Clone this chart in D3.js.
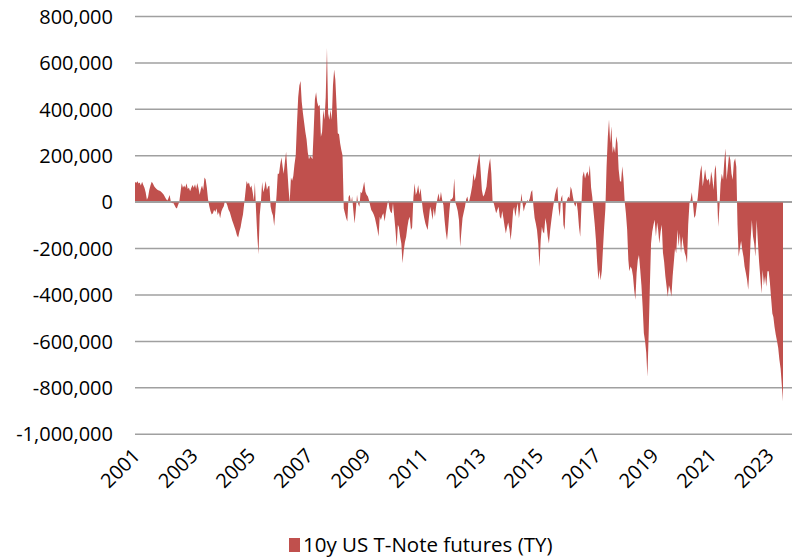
<!DOCTYPE html>
<meta charset="utf-8">
<style>
body { margin: 0; background: #fff; }
text { font-family: "Open Sans", sans-serif; font-size: 20px; fill: #000; }
.grid line { stroke: #a0a0a0; stroke-width: 1.5px; }
.grid path { display: none; }
.yaxis path, .xaxis path { display: none; }
.yaxis line, .xaxis line { display: none; }
.legend text { font-size: 20.5px; }
</style>
<svg width="792" height="559"></svg>
<script src="https://d3js.org/d3.v7.min.js"></script>
<script>

// net positioning, thousands of contracts, two readings per month from Jan 2001
var netPositions = [
  86, 80, 88, 78, 82, 70, 86, 72, 60, 40, 8, 20, 50, 70, 86, 78, 66, 60, 55, 50, 48, 46, 42, 36,                                   // 2001
  30, 20, 10, 5, 15, 29, 0, -7, -5, -14, -25, -30, -14, -2, 40, 79, 60, 70, 60, 79, 55, 60, 45, 60,                                // 2002
  72, 60, 75, 55, 80, 60, 30, 55, 70, 50, 104, 95, 60, 10, -20, -40, -55, -50, -35, -45, -30, -58, -45, -72,                       // 2003
  -43, -30, -20, 5, -4, -15, -35, -45, -62, -80, -95, -110, -125, -145, -155, -130, -110, -80, -55, -10, 40, 89, 75, 82,         // 2004
  60, 70, 40, 5, 82, -40, -150, -227, -60, -4, 85, 40, 60, 89, 50, 65, 68, -20, -45, -60, -105, -40, 30, 120,                      // 2005
  120, 160, 190, 150, 120, 170, 215, 140, 60, -4, 104, 90, 110, 160, 200, 330, 450, 500, 520, 430, 380, 340, 300, 269,             // 2006
  212, 183, 197, 190, 183, 300, 440, 471, 428, 410, 418, 280, 300, 396, 353, 450, 662, 380, 353, 396, 353, 500, 569, 526,          // 2007
  410, 295, 290, 250, 223, 200, -30, -50, -70, -86, 20, 30, -7, 22, -40, -94, -36, 30, -10, -22, 43, 36, 60, 86,                   // 2008
  43, 30, 22, 5, -15, -36, -45, -55, -70, -94, -120, -150, -65, -79, -60, -50, -86, -50, -20, 7, -30, -45, -50, -7,               // 2009
  -65, -120, -194, -100, -110, -150, -180, -266, -210, -175, -151, -110, -80, -65, -122, -110, 20, 79, 29, 43, 72, 30, 58, 5,     // 2010
  -43, -70, -95, -110, -122, -70, -22, -43, -79, -30, -65, -20, 10, 36, 5, 43, 7, -14, -79, -130, -166, -110, -40, 10,            // 2011
  10, 20, 101, -5, -20, -40, -80, -194, -130, -70, -45, -22, 10, 22, -7, 14, 40, 70, 122, 90, 110, 150, 180, 209,                 // 2012
  130, 50, 22, 30, 45, 65, 120, 160, 187, 122, 0, -7, -29, -50, -35, -22, -65, -75, -40, -70, -108, -137, -110, -90,              // 2013
  -120, -166, -110, -40, -22, -65, -30, -7, -72, -30, 36, -7, -43, -20, -7, 7, 0, 15, 40, 50, -20, -70, -94, -122,                // 2014
  -180, -281, -166, -108, -130, -137, -70, -100, -150, -180, -122, -80, -40, -7, 30, 50, 65, -30, -65, 14, 29, -100, -122, -7,    // 2015
  7, 22, 14, 65, 50, 20, -10, -22, 0, -40, -110, -151, -20, 108, 130, 100, 120, 130, 108, 158, 60, 20, -40, -94,                  // 2016
  -164, -260, -337, -294, -340, -300, -200, -107, -30, 150, 280, 354, 253, 325, 210, 239, 210, 282, 253, 140, 90, 85, 153, 100,   // 2017
  0, -49, -120, -250, -300, -280, -290, -320, -380, -423, -308, -251, -230, -290, -360, -450, -567, -600, -650, -755, -567, -366, -180, -130, // 2018
  -100, -78, -150, -90, -120, -180, -130, -100, -220, -260, -323, -366, -410, -360, -380, -409, -320, -260, -200, -222, -121, -193, -135, -222, // 2019
  -150, -190, -220, -236, -266, -100, -7, 7, 40, -10, -70, -60, -20, 20, 80, 130, 158, 65, 100, 140, 100, 90, 100, 70,            // 2020
  130, 100, 50, 137, 158, 40, -108, -22, 79, 120, 94, 170, 230, 94, 150, 202, 180, 120, 94, 170, 187, 150, -100, -238,            // 2021
  -200, -170, -210, -240, -280, -305, -335, -380, -295, -166, -79, -150, -180, -238, -79, -170, -260, -324, -396, -295, -360, -320, -367, -300, // 2022
  -300, -350, -420, -482, -497, -540, -575, -600, -630, -680, -720, -790, -860                                                      // 2023
];

var yTicks = [-1000000, -800000, -600000, -400000, -200000, 0, 200000, 400000, 600000, 800000];
var tickYears = [2001, 2003, 2005, 2007, 2009, 2011, 2013, 2015, 2017, 2019, 2021, 2023];
var seriesName = "10y US T-Note futures (TY)";

var svg = d3.select("svg");

var plotLeft = 135, plotRight = 792, dataRight = 783,
    plotTop = 16, plotBottom = 433.7;

var data = netPositions.map(function(v, i) {
  return { date: new Date(2001, Math.floor(i / 2), i % 2 ? 16 : 1), value: v * 1000 };
});

var x = d3.scaleTime()
    .domain([data[0].date, data[data.length - 1].date])
    .range([plotLeft, dataRight]);

var y = d3.scaleLinear()
    .domain([-1000000, 800000])
    .range([plotBottom, plotTop]);

var fmt = d3.formatLocale({ decimal: ".", thousands: ",", grouping: [3], currency: ["", ""], minus: "-" }).format(",");

// gridlines
svg.append("g")
    .attr("class", "grid")
    .attr("transform", "translate(" + plotLeft + ",0)")
    .call(d3.axisLeft(y).tickValues(yTicks).tickSize(-(plotRight - plotLeft)).tickFormat(""));

var area = d3.area()
    .x(function(d) { return x(d.date); })
    .y0(y(0))
    .y1(function(d) { return y(d.value); });

svg.append("path")
    .datum(data)
    .attr("fill", "#c0504d")
    .attr("d", area);

// horizontal axis line at zero
svg.append("line")
    .attr("x1", plotLeft).attr("x2", plotRight)
    .attr("y1", y(0)).attr("y2", y(0))
    .attr("stroke", "#a0a0a0")
    .attr("stroke-width", 1.5);

// y labels
svg.append("g")
    .attr("class", "yaxis")
    .attr("transform", "translate(113,0)")
    .call(d3.axisLeft(y).tickValues(yTicks).tickSize(0).tickPadding(0).tickFormat(fmt))
  .selectAll("text")
    .attr("dy", "0.36em");

// x labels
svg.append("g")
    .attr("class", "xaxis")
    .attr("transform", "translate(1,452)")
    .call(d3.axisBottom(x)
        .tickValues(tickYears.map(function(yr) { return new Date(yr, 0, 1); }))
        .tickSize(0)
        .tickFormat(d3.timeFormat("%Y")))
  .selectAll("text")
    .attr("x", 0)
    .attr("y", 0)
    .attr("dy", "0.35em")
    .attr("transform", "rotate(-45)")
    .style("text-anchor", "end");

// legend
var legend = svg.append("g").attr("class", "legend").attr("transform", "translate(289,545)");
legend.append("rect")
    .attr("x", 0).attr("y", -7)
    .attr("width", 11).attr("height", 14)
    .attr("fill", "#c0504d");
legend.append("text")
    .attr("x", 14)
    .attr("dy", "0.35em")
    .text(seriesName);

</script>
